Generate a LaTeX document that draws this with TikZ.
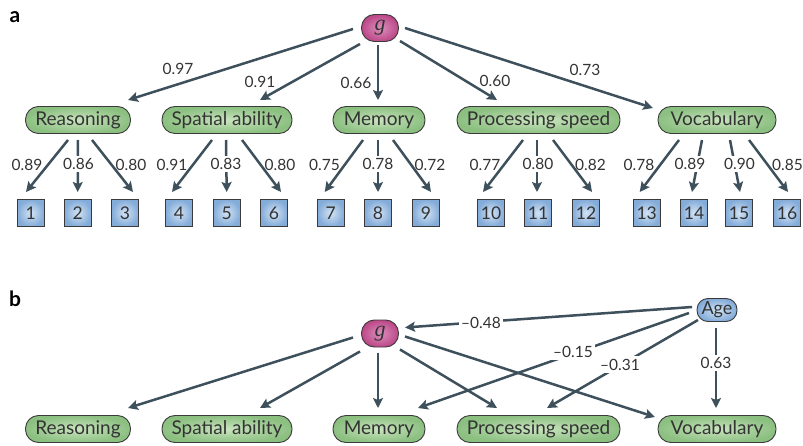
\documentclass[tikz,border=0pt]{standalone}
\usepackage{fontspec}
\setmainfont{Lato}
\newfontfamily\gfont{Liberation Serif}
\usetikzlibrary{arrows.meta,calc}
\definecolor{lineC}{HTML}{3D505C}
\definecolor{edgeC}{HTML}{3A3A3A}
\definecolor{txtC}{HTML}{333333}
\definecolor{grOut}{HTML}{8CC081}
\definecolor{grIn}{HTML}{C9E4BE}
\definecolor{blOut}{HTML}{84ACD9}
\definecolor{blIn}{HTML}{D2E3F4}
\definecolor{mgOut}{HTML}{BC4888}
\definecolor{mgIn}{HTML}{DC90BC}
\begin{document}
\begin{tikzpicture}[x=1pt,y=-1pt,
  factor/.style={draw=edgeC, line width=0.9pt, rounded corners=13pt, minimum height=27pt,
    inner sep=0pt, inner color=grIn, outer color=grOut, text=txtC,
    font=\fontsize{19}{19}\selectfont},
  gnode/.style={draw=edgeC, line width=0.9pt, rounded corners=13pt, minimum height=27pt,
    minimum width=37pt, inner sep=0pt, inner color=mgIn, outer color=mgOut, text=txtC,
    font=\gfont\itshape\fontsize{22}{22}\selectfont},
  agenode/.style={draw=edgeC, line width=0.9pt, rounded corners=11pt, minimum height=23pt,
    minimum width=40pt, inner sep=0pt, inner color=blIn, outer color=blOut, text=txtC,
    font=\fontsize{18}{18}\selectfont},
  sq/.style={draw=edgeC, line width=0.9pt, minimum size=27pt, inner sep=0pt,
    inner color=blIn, outer color=blOut, text=txtC, font=\fontsize{17.5}{17.5}\selectfont},
  arr/.style={draw=lineC, line width=2.5pt, -{Stealth[length=10pt,width=10pt,inset=2pt]}},
  lab/.style={text=txtC, inner sep=1.5pt, font=\fontsize{15.5}{15.5}\selectfont},
  labw/.style={lab, fill=white, inner sep=2.5pt},
  panel/.style={text=black, font=\bfseries\fontsize{21}{21}\selectfont}
]
\useasboundingbox (0,0) rectangle (803,446);

% ---------------- panel a ----------------
\node[panel] (pa) at (15,17) {a};
\node[gnode] (g) at (380,28) {g};
\node[factor, minimum width=105pt] (reas) at (78,120) {Reasoning};
\node[factor, minimum width=130pt] (spat) at (227,120) {Spatial ability};
\node[factor, minimum width=92pt] (mem) at (379,120) {Memory};
\node[factor, minimum width=163pt] (proc) at (538.5,120) {Processing speed};
\node[factor, minimum width=118pt] (voc) at (717,120) {Vocabulary};

\foreach \i/\x in {1/30.7,2/77.7,3/125,4/179,5/226.7,6/274,7/330.7,8/378,9/426,
  10/491,11/538,12/586,13/646.7,14/694,15/739,16/787}
  \node[sq] (s\i) at (\x,213) {\i};

\draw[arr] ([shift={(-27,1)}]g.center) -- ([shift={(50,-20)}]reas.center);
\draw[arr] ([shift={(-20,16)}]g.center) -- ([shift={(33,-20)}]spat.center);
\draw[arr] ([shift={(-2,17)}]g.center) -- ([shift={(-1,-20)}]mem.center);
\draw[arr] ([shift={(20,13)}]g.center) -- ([shift={(-41.5,-20)}]proc.center);
\draw[arr] ([shift={(25,0)}]g.center) -- ([shift={(-64,-12)}]voc.center);

\node[lab] (la1) at (178,68.5) {0.97};
\node[lab] (la2) at (260,81.5) {0.91};
\node[lab] (la3) at (356,83) {0.66};
\node[lab] (la4) at (495,80.5) {0.60};
\node[lab] (la5) at (585,69.5) {0.73};

% child arrows
\foreach \p/\s/\a/\b in {reas/s1/-10/-4.7, reas/s2/0/0, reas/s3/14/8,
  spat/s4/-15/-7, spat/s5/-1/0, spat/s6/15/7,
  mem/s7/-16/-6, mem/s8/-1/0, mem/s9/14/5,
  proc/s10/-15.5/-8, proc/s11/-1.5/-1, proc/s12/14.5/6,
  voc/s13/-38/-7, voc/s14/-15/-2, voc/s15/13/1, voc/s16/32/1}
  \draw[arr] ([shift={(\a,20)}]\p.center) -- ([shift={(\b,-21)}]\s.center);

\node[lab] (c1) at (27,165) {0.89};
\node[labw] (c2) at (78.5,164) {0.86};
\node[lab] (c3) at (131,165) {0.80};
\node[lab] (c4) at (172,165) {0.91};
\node[labw] (c5) at (226,164) {0.83};
\node[lab] (c6) at (280,165) {0.80};
\node[lab] (c7) at (324.5,165) {0.75};
\node[labw] (c8) at (378,164) {0.78};
\node[lab] (c9) at (430,165) {0.72};
\node[lab] (c10) at (485,165) {0.77};
\node[labw] (c11) at (538,164) {0.80};
\node[lab] (c12) at (590.5,165) {0.82};
\node[lab] (c13) at (639,165) {0.78};
\node[labw] (c14) at (690,164) {0.89};
\node[labw] (c15) at (739.5,164) {0.90};
\node[lab] (c16) at (787.5,165) {0.85};

% ---------------- panel b ----------------
\node[panel] (pb) at (15,299) {b};
\node[gnode] (gb) at (380,333.5) {g};
\node[agenode] (age) at (717,310) {Age};
\node[factor, minimum width=105pt] (reasb) at (78,429) {Reasoning};
\node[factor, minimum width=130pt] (spatb) at (227,429) {Spatial ability};
\node[factor, minimum width=92pt] (memb) at (379,429) {Memory};
\node[factor, minimum width=163pt] (procb) at (538.5,429) {Processing speed};
\node[factor, minimum width=118pt] (vocb) at (717,429) {Vocabulary};

\draw[arr] ([shift={(-27,4)}]gb.center) -- ([shift={(50,-21)}]reasb.center);
\draw[arr] ([shift={(-20,18)}]gb.center) -- ([shift={(33,-21)}]spatb.center);
\draw[arr] ([shift={(-2,19)}]gb.center) -- ([shift={(-1,-21)}]memb.center);
\draw[arr] ([shift={(20,16)}]gb.center) -- ([shift={(-41.5,-21)}]procb.center);
\draw[arr] ([shift={(25,3)}]gb.center) -- ([shift={(-62,-12)}]vocb.center);

\draw[arr] ([shift={(-25,-3)}]age.center) -- ([shift={(25,-6)}]gb.center);
\draw[arr] ([shift={(-28,3)}]age.center) -- ([shift={(39,-21)}]memb.center);
\draw[arr] ([shift={(-19,10)}]age.center) -- ([shift={(8.5,-21)}]procb.center);
\draw[arr] ([shift={(-1,18)}]age.center) -- ([shift={(-1,-21)}]vocb.center);

\node[labw] (d1) at (481,322.5) {–0.48};
\node[labw] (d2) at (573,352) {–0.15};
\node[labw] (d3) at (620,364.5) {–0.31};
\node[labw] (d4) at (716,363) {0.63};
\end{tikzpicture}
\end{document}
